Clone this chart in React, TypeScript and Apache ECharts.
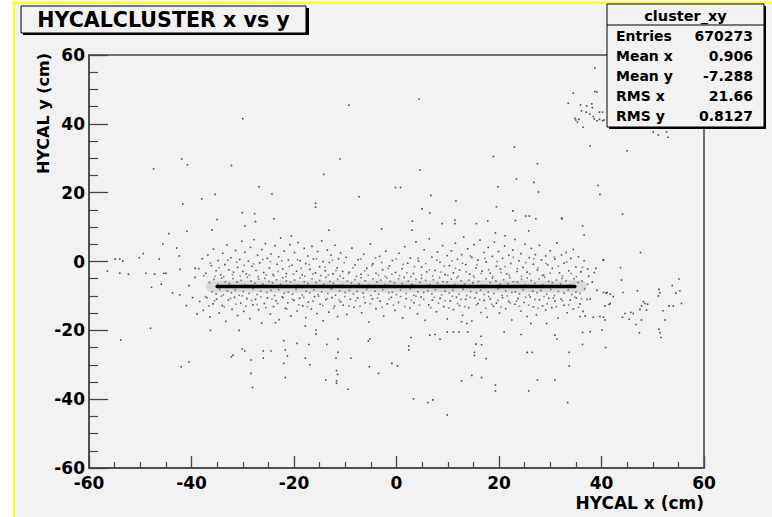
import React, { useEffect, useRef } from "react";
import * as echarts from "echarts";

const TITLE = "HYCALCLUSTER x vs y";
const X_TITLE = "HYCAL x (cm)";
const Y_TITLE = "HYCAL y (cm)";
const statsName = "cluster_xy";
const statsLabels = ["Entries", "Mean x", "Mean y", "RMS x", "RMS y"];
const statsValues = ["670273", "0.906", "-7.288", "21.66", "0.8127"];

// dense core band and its haze (drawn as strokes between their ends)
const bandLine = [[-35, -7.3], [34.8, -7.3]];
const hazeInner = [[-36, -7.3], [36, -7.3]];

const bandHalo = [
  [-36.5,-6.1],[-36.0,-8.8],[-35.6,-5.2],[-35.2,-9.4],[-34.9,-6.6],[-34.5,-8.1],[-34.1,-4.8],[-33.8,-9.7],[-33.4,-5.9],[-33.0,-8.5],
  [-32.6,-6.4],[-32.2,-9.1],[-31.9,-5.0],[-31.5,-8.3],[-31.1,-6.0],[-30.7,-9.8],[-30.3,-5.5],[-29.9,-8.7],[-29.5,-6.8],[-29.1,-4.6],
  [-28.8,-9.3],[-28.4,-5.7],[-28.0,-8.0],[-27.6,-6.3],[-27.2,-9.6],[-26.9,-5.1],[-26.5,-8.6],[-26.1,-6.5],[-25.7,-4.9],[-25.3,-9.0],
  [-24.9,-5.8],[-24.5,-8.4],[-24.2,-6.2],[-23.8,-9.9],[-23.4,-5.3],[-23.0,-8.2],[-22.6,-6.7],[-22.2,-4.7],[-21.9,-9.2],[-21.5,-5.6],
  [-21.1,-8.9],[-20.7,-6.0],[-20.3,-9.5],[-19.9,-5.4],[-19.6,-8.1],[-19.2,-6.9],[-18.8,-4.8],[-18.4,-9.7],[-18.0,-5.9],[-17.6,-8.6],
  [-17.3,-6.4],[-16.9,-9.1],[-16.5,-5.0],[-16.1,-8.3],[-15.7,-6.1],[-15.3,-9.6],[-15.0,-5.5],[-14.6,-8.8],[-14.2,-6.6],[-13.8,-4.6],
  [-13.4,-9.3],[-13.0,-5.8],[-12.7,-8.0],[-12.3,-6.3],[-11.9,-9.8],[-11.5,-5.2],[-11.1,-8.5],[-10.7,-6.8],[-10.4,-4.9],[-10.0,-9.0],
  [-9.6,-5.7],[-9.2,-8.4],[-8.8,-6.2],[-8.4,-9.4],[-8.1,-5.3],[-7.7,-8.7],[-7.3,-6.5],[-6.9,-4.7],[-6.5,-9.2],[-6.1,-5.6],
  [-5.8,-8.1],[-5.4,-6.9],[-5.0,-9.9],[-4.6,-5.1],[-4.2,-8.6],[-3.8,-6.0],[-3.5,-9.5],[-3.1,-5.4],[-2.7,-8.2],[-2.3,-6.7],
  [-1.9,-4.8],[-1.5,-9.1],[-1.2,-5.8],[-0.8,-8.9],[-0.4,-6.2],[0.0,-9.6],[0.4,-5.0],[0.8,-8.3],[1.1,-6.4],[1.5,-4.6],
  [1.9,-9.3],[2.3,-5.7],[2.7,-8.0],[3.0,-6.6],[3.4,-9.8],[3.8,-5.2],[4.2,-8.8],[4.6,-6.1],[4.9,-4.9],[5.3,-9.0],
  [5.7,-5.5],[6.1,-8.5],[6.5,-6.8],[6.9,-9.4],[7.2,-5.3],[7.6,-8.2],[8.0,-6.3],[8.4,-4.7],[8.8,-9.7],[9.1,-5.9],
  [9.5,-8.6],[9.9,-6.0],[10.3,-9.2],[10.7,-5.1],[11.0,-8.4],[11.4,-6.7],[11.8,-4.8],[12.2,-9.5],[12.6,-5.6],[13.0,-8.1],
  [13.3,-6.5],[13.7,-9.9],[14.1,-5.4],[14.5,-8.7],[14.9,-6.2],[15.2,-4.6],[15.6,-9.1],[16.0,-5.8],[16.4,-8.3],[16.8,-6.9],
  [17.1,-9.6],[17.5,-5.0],[17.9,-8.9],[18.3,-6.1],[18.7,-4.9],[19.0,-9.3],[19.4,-5.7],[19.8,-8.0],[20.2,-6.6],[20.6,-9.8],
  [20.9,-5.3],[21.3,-8.5],[21.7,-6.4],[22.1,-4.7],[22.5,-9.0],[22.8,-5.9],[23.2,-8.8],[23.6,-6.0],[24.0,-9.4],[24.4,-5.2],
  [24.7,-8.2],[25.1,-6.8],[25.5,-4.8],[25.9,-9.7],[26.3,-5.5],[26.6,-8.6],[27.0,-6.3],[27.4,-9.1],[27.8,-5.1],[28.2,-8.4],
  [28.5,-6.7],[28.9,-4.6],[29.3,-9.5],[29.7,-5.8],[30.1,-8.1],[30.4,-6.2],[30.8,-9.9],[31.2,-5.4],[31.6,-8.7],[32.0,-6.5],
  [32.3,-4.9],[32.7,-9.2],[33.1,-5.6],[33.5,-8.3],[33.9,-6.9],[34.2,-9.6],[34.6,-5.0],[35.0,-8.9],[35.4,-6.1],[35.8,-9.3],
  [36.2,-5.7],[36.7,-8.0],[37.3,-6.6]
];

const cloudUpper = [
  [-38.6,-2.1],[-37.9,0.8],[-37.2,-3.4],[-36.8,1.9],[-36.1,-1.2],[-35.7,3.6],[-35.2,-2.7],[-34.8,0.3],[-34.3,-3.9],[-33.9,2.4],
  [-33.5,-0.9],[-33.1,4.8],[-32.7,-2.4],[-32.3,1.1],[-31.8,-3.1],[-31.4,3.2],[-31.0,-1.7],[-30.6,0.6],[-30.2,5.9],[-30.0,-2.9],
  [-29.6,2.7],[-29.3,-3.6],[-28.9,0.1],[-28.5,4.1],[-28.2,-1.4],[-27.8,6.3],[-27.4,-2.6],[-27.1,1.8],[-26.7,-0.4],[-26.3,3.5],
  [-25.9,-3.2],[-25.6,5.2],[-25.2,0.9],[-24.8,-1.9],[-24.5,2.2],[-24.1,-3.8],[-23.7,4.6],[-23.3,-0.8],[-23.0,1.4],[-22.6,6.8],
  [-22.2,-2.2],[-21.9,3.0],[-21.5,-3.5],[-21.1,0.4],[-20.8,4.9],[-20.4,-1.1],[-19.9,2.6],[-19.5,-2.8],[-19.2,5.5],[-18.8,0.2],
  [-18.4,-3.9],[-18.0,3.8],[-17.7,-0.6],[-17.3,1.6],[-16.9,-2.3],[-16.5,4.4],[-16.2,0.7],[-15.8,-3.3],[-15.4,2.9],[-15.0,-1.5],
  [-14.6,6.0],[-14.3,0.0],[-13.9,-2.7],[-13.5,3.3],[-13.1,-0.3],[-12.8,1.9],[-12.4,-3.6],[-12.0,4.7],[-11.6,-1.8],[-11.3,0.8],
  [-10.9,2.5],[-10.5,-2.9],[-9.8,1.2],[-9.2,-3.1],[-8.7,3.9],[-8.1,-1.0],[-7.5,0.5],[-6.9,-3.7],[-6.4,2.1],[-5.8,-2.0],
  [-5.1,5.1],[-4.6,-0.7],[-4.0,-3.4],[-3.3,1.5],[-2.7,-2.4],[-2.1,3.0],[-1.4,-1.3],[-0.8,0.3],[-0.2,-3.2],[0.5,2.4],
  [1.1,-2.1],[1.6,4.3],[2.2,-0.5],[2.7,1.0],[3.3,-3.5],[3.8,5.7],[4.3,0.1],[4.9,-1.6],[5.4,3.4],[5.9,-3.0],
  [6.4,6.6],[6.9,1.3],[7.5,-2.6],[8.0,2.8],[8.5,-0.2],[9.0,4.6],[9.5,-3.8],[9.9,1.7],[10.3,-1.2],[10.7,3.1],
  [11.1,-3.3],[11.5,5.3],[11.9,0.6],[12.3,-2.5],[12.7,2.0],[13.1,7.1],[13.5,-0.9],[13.9,3.7],[14.3,-3.7],[14.7,1.2],
  [15.1,4.9],[15.5,-1.9],[15.9,0.4],[16.3,6.2],[16.7,-2.8],[17.1,2.6],[17.5,-0.1],[17.9,4.1],[18.3,-3.4],[18.7,1.5],
  [19.1,5.6],[19.5,-1.4],[19.9,2.9],[20.3,-2.2],[20.7,0.9],[21.1,4.5],[21.5,-3.6],[21.9,1.8],[22.3,-0.6],[22.7,3.3],
  [23.1,6.4],[23.5,-2.9],[23.9,0.2],[24.3,2.3],[24.7,-1.7],[25.1,5.0],[25.5,-3.1],[25.9,1.1],[26.3,3.8],[26.7,-0.8],
  [27.1,2.0],[27.5,-2.5],[27.9,4.7],[28.3,0.5],[28.7,-3.9],[29.1,1.6],[29.5,-1.0],[30.0,3.1],[30.4,-2.0],[30.9,0.7],
  [31.3,5.4],[31.8,-3.3],[32.2,1.9],[32.7,-0.5],[33.1,2.6],[33.6,-2.7],[34.0,0.9],[34.5,3.5],[35.0,-1.6],[35.5,1.4],
  [36.0,-3.0],[36.6,0.2],[37.3,-2.2]
];

const cloudMidUpper = [
  [-37.6,-4.1],[-36.3,-0.5],[-35.4,-4.3],[-34.6,-1.8],[-33.7,-4.4],[-32.9,0.4],[-32.0,-3.8],[-31.2,-0.2],[-30.5,-4.2],[-29.7,-1.1],
  [-28.7,-4.0],[-27.9,-0.7],[-27.0,-4.4],[-26.1,0.6],[-25.4,-3.9],[-24.6,-0.1],[-23.9,-4.2],[-23.1,-2.9],[-22.4,0.2],[-21.6,-4.4],
  [-20.9,-1.4],[-20.1,-3.7],[-19.3,0.5],[-18.6,-2.0],[-17.9,-4.3],[-17.0,-0.9],[-16.3,-3.6],[-15.6,0.8],[-14.8,-4.1],[-14.0,-1.6],
  [-13.3,-3.9],[-12.5,0.3],[-11.8,-2.6],[-11.0,-4.2],[-10.2,-0.4],[-9.4,-3.5],[-8.5,-1.8],[-7.8,-4.3],[-7.0,0.7],[-6.2,-2.7],
  [-5.5,-4.0],[-4.8,-1.2],[-4.1,1.0],[-3.5,-3.9],[-2.9,-0.3],[-2.2,-4.3],[-1.6,-2.0],[-0.9,-3.7],[-0.1,0.8],[0.6,-4.1],
  [1.3,-0.8],[2.0,-3.3],[2.8,-4.4],[3.5,-1.5],[4.2,0.9],[4.9,-3.9],[5.7,-0.6],[6.4,-2.4],[7.1,-4.2],[7.9,0.4],
  [8.6,-3.1],[9.3,-1.3],[10.0,-4.0],[10.8,0.2],[11.5,-2.0],[12.1,-4.3],[12.9,-0.5],[13.6,-3.0],[14.4,1.6],[15.0,-4.1],
  [15.7,-1.0],[16.5,-3.5],[17.2,0.9],[18.0,-2.4],[18.8,-4.4],[19.6,0.0],[20.4,-3.2],[21.2,-1.5],[22.0,-4.0],[22.8,1.2],
  [23.6,-2.1],[24.4,-4.3],[25.2,-0.3],[26.0,-3.6],[26.8,0.8],[27.6,-1.9],[28.4,-4.1],[29.2,-0.6],[30.0,-3.4],[30.8,1.3],
  [31.6,-1.4],[32.4,-4.2],[33.2,-0.2],[34.1,-3.5],[35.1,-4.4],[36.3,-1.7]
];

const cloudMidLower = [
  [-37.3,-10.2],[-36.6,-12.9],[-35.5,-11.4],[-34.2,-10.1],[-33.6,-13.2],[-32.4,-10.7],[-31.3,-12.4],[-30.1,-10.0],[-29.4,-13.0],[-28.3,-11.3],
  [-27.2,-12.5],[-26.5,-10.3],[-25.5,-13.4],[-24.3,-10.9],[-23.2,-12.2],[-22.1,-10.6],[-21.4,-13.8],[-20.3,-11.0],[-19.1,-12.6],[-18.1,-10.4],
  [-17.4,-13.1],[-16.3,-11.5],[-15.2,-10.1],[-14.4,-12.8],[-13.5,-10.8],[-12.3,-13.6],[-11.2,-11.2],[-10.1,-10.2],[-9.3,-12.9],[-8.0,-11.4],
  [-7.1,-13.0],[-6.4,-10.3],[-5.1,-12.3],[-3.7,-10.6],[-2.8,-13.3],[-1.4,-11.0],[-0.6,-12.7],[0.8,-10.2],[1.6,-13.1],[2.9,-11.3],
  [3.8,-10.1],[4.5,-12.7],[5.3,-11.0],[6.7,-13.4],[7.4,-10.4],[8.2,-12.1],[9.5,-11.4],[10.2,-13.5],[10.9,-10.1],[11.9,-12.2],
  [12.6,-11.0],[13.3,-13.1],[14.4,-10.4],[15.6,-12.6],[16.2,-11.1],[17.4,-13.6],[18.0,-10.2],[18.6,-12.4],[19.8,-11.3],[20.4,-13.2],
  [21.6,-10.0],[22.2,-12.0],[23.4,-11.5],[24.0,-13.0],[25.2,-10.4],[25.8,-12.7],[27.0,-11.0],[27.6,-13.6],[28.8,-10.2],[29.4,-12.3],
  [30.6,-10.6],[31.2,-13.1],[32.4,-11.4],[33.6,-12.6],[34.8,-10.3],[35.5,-13.3],[36.1,-10.9]
];

const cloudLower = [
  [-38.4,-11.6],[-37.7,-14.2],[-37.0,-10.5],[-36.4,-16.1],[-35.8,-12.3],[-35.1,-10.9],[-34.6,-15.0],[-34.0,-12.8],[-33.3,-17.4],[-32.8,-11.2],
  [-32.1,-13.9],[-31.6,-10.4],[-31.0,-15.7],[-30.4,-12.1],[-29.8,-14.5],[-29.2,-10.8],[-28.6,-16.6],[-28.0,-12.6],[-27.5,-11.0],[-26.9,-14.0],
  [-26.3,-17.9],[-25.8,-12.2],[-25.2,-10.6],[-24.6,-15.3],[-24.0,-13.1],[-23.5,-11.4],[-22.9,-16.9],[-22.3,-10.3],[-21.7,-13.6],[-21.2,-12.0],
  [-20.6,-15.8],[-20.0,-11.3],[-19.4,-14.4],[-18.9,-10.7],[-18.3,-12.9],[-17.7,-16.3],[-17.2,-11.8],[-16.6,-13.8],[-16.0,-10.2],[-15.5,-15.1],
  [-14.9,-12.4],[-14.3,-17.2],[-13.8,-11.1],[-13.2,-14.7],[-12.6,-10.5],[-12.1,-13.0],[-11.5,-16.0],[-10.9,-11.7],[-10.4,-12.7],[-9.7,-15.4],
  [-9.0,-11.0],[-8.3,-13.3],[-7.6,-10.6],[-6.8,-14.9],[-6.1,-12.0],[-5.4,-17.6],[-4.7,-10.9],[-4.0,-13.7],[-3.2,-11.5],[-2.5,-15.9],
  [-1.8,-12.3],[-1.0,-10.4],[-0.3,-14.2],[0.4,-11.9],[1.2,-16.4],[1.9,-10.8],[2.6,-13.5],[3.4,-12.0],[4.1,-15.2],[4.8,-10.3],
  [5.6,-17.1],[6.3,-12.6],[7.0,-11.2],[7.8,-14.6],[8.5,-10.7],[9.2,-13.1],[9.9,-16.7],[10.5,-11.5],[11.1,-14.0],[11.7,-10.4],
  [12.3,-12.8],[12.9,-15.6],[13.5,-11.0],[14.1,-13.4],[14.7,-17.3],[15.3,-10.6],[15.9,-12.2],[16.5,-14.8],[17.1,-11.3],[17.7,-16.2],
  [18.3,-10.9],[18.9,-13.0],[19.5,-12.1],[20.1,-15.0],[20.7,-10.5],[21.3,-13.7],[21.9,-11.6],[22.5,-17.0],[23.1,-12.4],[23.7,-10.8],
  [24.3,-14.4],[24.9,-11.9],[25.5,-16.0],[26.1,-10.3],[26.7,-13.2],[27.3,-15.5],[27.9,-11.1],[28.5,-12.9],[29.1,-14.1],[29.7,-10.7],
  [30.3,-13.4],[30.9,-11.5],[31.5,-16.4],[32.1,-10.9],[32.7,-12.7],[33.3,-14.9],[33.9,-11.2],[34.5,-13.8],[35.1,-10.6],[35.8,-12.3],
  [36.4,-14.5],[37.2,-11.0]
];

const sparseUpper = [
  [-41.9,29.8],[-40.8,28.1],[-47.4,26.9],[-32.2,27.9],[-14.2,25.3],[-26.8,21.7],[-35.4,19.5],[-24.3,19.6],[-38.0,18.2],[-41.7,16.7],
  [-15.8,16.9],[-15.8,15.8],[-30.1,14.2],[-27.7,13.9],[-35.0,12.2],[-23.9,12.4],[-27.5,11.6],[-29.6,10.3],[-36.0,9.2],[-40.9,8.8],
  [-44.4,8.1],[-13.2,9.1],[-20.5,7.4],[-11.0,29.8],[18.9,30.5],[27.5,28.4],[4.6,26.6],[23.4,24.0],[26.8,23.0],[39.3,22.1],
  [39.7,19.5],[-0.2,21.5],[0.8,21.5],[19.8,21.7],[27.7,20.2],[-7.3,18.8],[6.7,19.2],[11.6,17.6],[19.5,15.9],[5.0,15.3],
  [6.5,14.1],[22.7,14.7],[25.2,13.2],[25.9,13.2],[32.3,12.4],[3.1,11.7],[8.9,11.0],[11.4,12.0],[11.4,11.0],[15.6,11.0],
  [17.8,11.8],[23.2,11.9],[27.2,12.4],[-2.9,9.5],[3.0,9.1],[36.3,10.3],[25.8,8.9],[19.3,8.3],[21.2,7.5],[-30.0,41.5],
  [-9.3,45.4],[4.4,47.2],[23.0,33.2],[37.8,33.6],[45.0,32.2],[44.1,13.8],[32.2,12.6],[36.6,7.7]
];

const topRightCluster = [
  [34.5,48.9],[38.7,49.4],[39.1,49.2],[33.5,46.0],[35.9,45.5],[37.1,45.2],[38.1,45.8],[38.2,44.7],[36.1,43.8],[37.0,43.4],
  [37.7,42.8],[34.8,41.6],[35.0,41.1],[35.3,40.5],[38.4,42.1],[38.6,41.4],[39.1,40.9],[39.6,41.3],[40.2,40.9],[40.5,41.1],
  [39.6,43.4],[40.2,43.4],[36.4,39.0],[38.7,56.2],[35.6,41.3],[50.1,37.6],[52.7,37.6],[51.1,36.8],[53.0,36.1]
];

const rightTail = [
  [47.6,2.6],[40.3,0.4],[43.7,-1.8],[43.9,-5.4],[44.2,-9.0],[47.0,-8.5],[51.2,-8.1],[51.4,-9.1],[51.1,-10.0],[55.1,-5.1],
  [53.8,-7.0],[54.5,-9.2],[55.3,-8.5],[55.6,-12.2],[53.2,-12.9],[54.0,-12.9],[52.0,-14.3],[52.4,-17.0],[51.2,-19.7],[51.4,-20.7],
  [51.6,-22.1],[48.2,-11.7],[48.5,-12.2],[49.0,-12.4],[47.8,-12.9],[47.5,-13.9],[48.8,-14.1],[45.7,-14.8],[46.2,-15.1],[44.6,-15.1],
  [44.1,-16.2],[45.4,-16.8],[47.8,-17.0],[46.7,-18.3],[47.4,-20.7],[40.4,-9.0],[41.1,-9.0],[41.7,-9.5],[42.3,-10.2],[40.7,-12.9],
  [41.7,-12.2],[35.8,-16.0],[36.8,-15.8],[38.4,-16.2],[39.7,-16.0],[40.4,-16.2],[40.7,-17.0],[36.3,-20.6],[37.8,-20.4],[40.1,-19.9],
  [36.3,-24.1],[40.8,-25.0],[41.5,-12.5],[40.9,-9.2],[38.9,-2.0],[40.4,0.4],[37.5,-4.3],[38.2,-6.0],[39.1,-8.4],[37.8,-10.9],
  [38.6,-3.2]
];

const sparseLower = [
  [-48.0,-19.4],[-53.8,-22.8],[-36.3,-20.0],[-30.7,-20.0],[-42.0,-30.6],[-40.5,-29.2],[-32.2,-27.7],[-31.9,-27.2],[-30.1,-25.4],[-29.6,-26.0],
  [-26.0,-26.0],[-24.5,-26.0],[-28.4,-28.6],[-28.4,-32.5],[-28.1,-36.6],[-26.0,-28.1],[-21.7,-25.7],[-21.3,-27.5],[-22.0,-23.0],[-22.0,-29.6],
  [-21.7,-33.7],[-19.4,-23.8],[-17.8,-18.7],[-17.1,-24.1],[-15.7,-19.9],[-15.7,-21.1],[-17.8,-28.1],[-16.9,-30.0],[-23.6,-17.8],[-13.8,-34.4],
  [-11.7,-31.7],[-11.5,-32.8],[-11.7,-34.7],[-11.7,-35.4],[-9.5,-37.1],[-3.5,-32.5],[3.3,-39.9],[6.1,-41.0],[7.1,-40.2],[9.9,-44.6],
  [12.7,-34.7],[14.7,-33.1],[16.6,-33.7],[19.3,-35.9],[19.3,-37.6],[25.8,-37.6],[27.5,-34.4],[30.9,-34.4],[33.4,-41.0],[17.5,-28.2],
  [25.5,-26.4],[26.5,-26.4],[33.7,-26.4],[33.7,-30.4],[15.2,-26.4],[15.2,-27.3],[15.5,-24.0],[16.6,-24.2],[16.5,-21.7],[-13.6,-24.1],
  [-11.4,-22.5],[-11.4,-26.4],[-11.8,-28.1],[-8.9,-28.1],[-5.3,-30.6],[-0.9,-29.6],[0.2,-30.3],[2.4,-24.6],[2.4,-25.7],[2.8,-22.1],
  [-5.2,-22.5],[-5.5,-23.1],[6.5,-21.4],[7.5,-21.2],[8.5,-22.6],[12.7,-17.5],[13.7,-18.0],[9.9,-20.5],[11.1,-20.5],[12.2,-20.5],
  [13.9,-20.5],[21.0,-20.5],[24.3,-21.2],[26.2,-18.0],[29.3,-18.0],[30.9,-21.4],[31.3,-22.5]
];

const sparseLeft = [
  [-54.9,0.7],[-54.0,0.7],[-53.4,0.1],[-46.3,0.7],[-42.4,1.6],[-56.4,-2.8],[-54.0,-3.4],[-52.3,-3.7],[-48.9,-3.4],[-47.2,-3.7],
  [-45.4,-3.4],[-45.0,-3.4],[-45.6,5.1],[-42.9,3.9],[-49.4,2.3],[-50.2,1.1],[-39.3,-2.0],[-39.3,-4.6],[-40.5,-7.0],[-39.8,-10.5],
  [-41.0,-12.8],[-38.9,-15.3],[-42.2,-2.3],[-47.8,-7.5],[-45.9,-6.6],[-43.7,-9.1],[-42.3,-9.7]
];

const FONT = "DejaVu Sans";

export default function App() {
  const ref = useRef<HTMLDivElement>(null);
  useEffect(() => {
    const chart = echarts.init(ref.current!, null, { renderer: "svg" });
    const dot = (data: number[][], color: string, size = 1.7) => ({
      type: "scatter",
      data,
      symbol: "rect",
      symbolSize: size,
      itemStyle: { color },
      silent: true,
      z: 3,
    });
    const stroke = (data: number[][], color: string, width: number, z: number) => ({
      type: "line", data, showSymbol: false, silent: true, z,
      lineStyle: { color, width, cap: "round" },
    });
    const statsGraphics: any[] = [
      { type: "rect", shape: { x: 609, y: 6, width: 157, height: 123 }, style: { fill: "#000" }, z: 100 },
      { type: "rect", shape: { x: 607, y: 4, width: 157, height: 123 }, style: { fill: "#f2f2f2", stroke: "#000", lineWidth: 1 }, z: 101 },
      { type: "line", shape: { x1: 607, y1: 25, x2: 764, y2: 25 }, style: { stroke: "#000", lineWidth: 1 }, z: 102 },
      { type: "text", x: 685.5, y: 15.5, style: { text: statsName, font: `bold 14.5px "${FONT}"`, fill: "#000", textAlign: "center", textVerticalAlign: "middle" }, z: 102 },
    ];
    statsLabels.forEach((lab, i) => {
      const y = 35.5 + i * 20;
      statsGraphics.push({ type: "text", x: 616, y, style: { text: lab, font: `bold 14px "${FONT}"`, fill: "#000", textAlign: "left", textVerticalAlign: "middle" }, z: 102 });
      statsGraphics.push({ type: "text", x: 753, y, style: { text: statsValues[i], font: `bold 14px "${FONT}"`, fill: "#000", textAlign: "right", textVerticalAlign: "middle" }, z: 102 });
    });
    const axisCommon = {
      type: "value", min: -60, max: 60, interval: 20,
      splitLine: { show: false },
    };
    const option: any = {
      animation: false,
      backgroundColor: "#f2f2f2",
      grid: { left: 89, right: 68, top: 55, bottom: 49, show: true, borderColor: "#444", borderWidth: 1.5, backgroundColor: "transparent" },
      xAxis: {
        ...axisCommon,
        axisLine: { show: true, onZero: false, lineStyle: { color: "#444", width: 1.5 } },
        axisTick: { show: true, inside: true, length: 12, lineStyle: { color: "#444", width: 1.3 } },
        minorTick: { show: true, splitNumber: 4, length: 6, lineStyle: { color: "#444", width: 1.2 } },
        axisLabel: { margin: 6, color: "#000", fontFamily: FONT, fontWeight: "bold", fontSize: 17 },
      },
      yAxis: {
        ...axisCommon,
        axisLine: { show: true, onZero: false, lineStyle: { color: "#444", width: 1.5 } },
        axisTick: { show: true, inside: true, length: 19, lineStyle: { color: "#444", width: 1.3 } },
        minorTick: { show: true, splitNumber: 4, length: 9, lineStyle: { color: "#444", width: 1.2 } },
        axisLabel: { margin: 4, color: "#000", fontFamily: FONT, fontWeight: "bold", fontSize: 17 },
      },
      series: [
        stroke(hazeInner, "rgba(60,60,60,0.13)", 12, 1),
        dot(bandHalo, "#555", 1.6),
        dot(cloudMidUpper, "#666", 1.6),
        dot(cloudMidLower, "#666", 1.6),
        dot(cloudUpper, "#2a2a2a", 1.6),
        dot(cloudLower, "#2a2a2a", 1.6),
        dot(sparseUpper, "#222", 1.6),
        dot(sparseLower, "#222", 1.6),
        dot(sparseLeft, "#222", 1.6),
        dot(topRightCluster, "#222", 1.6),
        dot(rightTail, "#222", 1.6),
        stroke(bandLine, "#000", 3.5, 4),
      ],
      graphic: [
        { type: "rect", shape: { x: 0, y: 0, width: 13, height: 517 }, style: { fill: "#fff" }, z: 90 },
        { type: "rect", shape: { x: 0, y: 0, width: 772, height: 1.5 }, style: { fill: "#fff" }, z: 90 },
        { type: "rect", shape: { x: 13, y: 1.5, width: 2, height: 516 }, style: { fill: "#ffff00" }, z: 91 },
        { type: "rect", shape: { x: 13, y: 1.5, width: 759, height: 2 }, style: { fill: "#ffff00" }, z: 91 },
        { type: "rect", shape: { x: 23, y: 8, width: 286, height: 27 }, style: { fill: "#000" }, z: 100 },
        { type: "rect", shape: { x: 21, y: 6, width: 285, height: 27 }, style: { fill: "#f2f2f2", stroke: "#000", lineWidth: 1 }, z: 101 },
        { type: "text", x: 163.5, y: 20, style: { text: TITLE, font: `bold 20.6px "${FONT}"`, fill: "#000", textAlign: "center", textVerticalAlign: "middle" }, z: 102 },
        ...statsGraphics,
        { type: "text", x: 704, y: 503, style: { text: X_TITLE, font: `bold 17px "${FONT}"`, fill: "#000", textAlign: "right", textVerticalAlign: "middle" }, z: 102 },
        { type: "text", x: 43, y: 53, rotation: Math.PI / 2, style: { text: Y_TITLE, font: `bold 16px "${FONT}"`, fill: "#000", textAlign: "right", textVerticalAlign: "middle" }, z: 102 },
      ],
    };
    chart.setOption(option);
    return () => chart.dispose();
  }, []);
  return <div ref={ref} style={{ position: "fixed", left: 0, top: 0, width: 772, height: 517 }} />;
}
